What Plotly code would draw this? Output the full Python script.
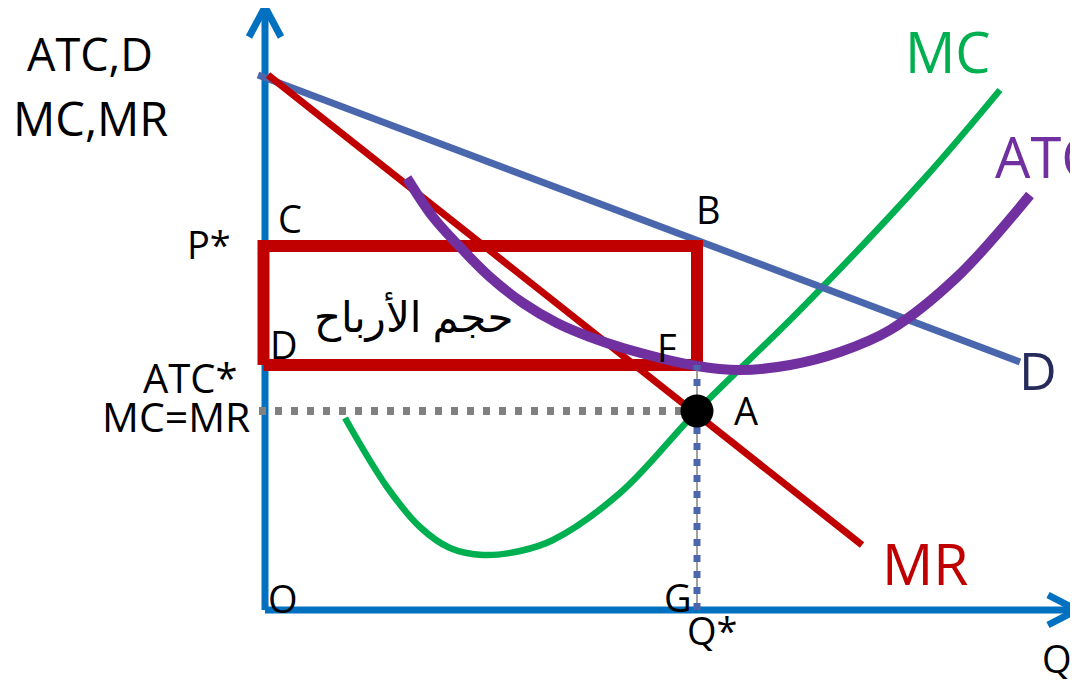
import plotly.graph_objects as go

# curves of the monopoly diagram (Q on x, price/cost on y)
demand_q = [-0.7, 75.5]
demand_p = [53.5, 24.8]

mr_q = [0.3, 59.7]
mr_p = [53.5, 6.5]

mc_q = [8.0, 12.2, 15.5, 18.5, 21.8, 25.5, 28.8, 35.5, 43.2, 53.5, 65.8, 73.5]
mc_p = [19.2, 12.3, 8.3, 6.2, 5.5, 5.9, 7.0, 11.7, 19.9, 30.0, 43.0, 52.0]

atc_q = [14.2, 16.8, 19.5, 22.5, 25.8, 29.2, 32.5, 35.8, 43.2, 47.5, 52.5,
         57.5, 62.5, 69.2, 76.5]
atc_p = [43.2, 39.3, 36.3, 33.3, 30.7, 28.7, 27.3, 26.2, 24.4, 24.0, 24.5,
         25.8, 28.0, 33.3, 41.5]

# equilibrium values
q_star = 43.2
p_star = 36.4
atc_star = 24.5
mc_mr = 19.9

# axes
q_axis_end = 81.2
p_axis_end = 60.3

# point letters: text, q, p
point_labels = [
    ("C", 2.5, 39.2), ("B", 44.3, 40.1), ("D", 1.9, 26.6), ("F", 40.2, 26.3),
    ("A", 48.1, 20.0), ("O", 1.8, 1.2), ("G", 41.3, 1.3), ("Q*", 44.7, -2.0),
    ("Q", 79.2, -4.8), ("P*", -5.6, 36.6),
]

BLUE_AXIS = "#0070C0"
D_BLUE = "#4A66AC"
RED = "#C00000"
GREEN = "#00B050"
PURPLE = "#7030A0"
FONT = "Open Sans, Noto Sans, DejaVu Sans, sans-serif"

fig = go.Figure()

# axes with open arrow heads
fig.add_trace(go.Scatter(x=[0, 0], y=[0, p_axis_end], mode="lines",
                         line=dict(color=BLUE_AXIS, width=7)))
fig.add_trace(go.Scatter(x=[0, q_axis_end], y=[0, 0], mode="lines",
                         line=dict(color=BLUE_AXIS, width=7)))
fig.add_trace(go.Scatter(x=[-1.6, 0, 1.6], y=[p_axis_end - 3, p_axis_end, p_axis_end - 3],
                         mode="lines", line=dict(color=BLUE_AXIS, width=7)))
fig.add_trace(go.Scatter(x=[q_axis_end - 2.9, q_axis_end, q_axis_end - 2.9], y=[1.5, 0, -1.5],
                         mode="lines", line=dict(color=BLUE_AXIS, width=7)))

# MC, D, MR
fig.add_trace(go.Scatter(x=mc_q, y=mc_p, mode="lines", line_shape="spline",
                         line=dict(color=GREEN, width=6.5)))
fig.add_trace(go.Scatter(x=demand_q, y=demand_p, mode="lines",
                         line=dict(color=D_BLUE, width=7)))
fig.add_trace(go.Scatter(x=mr_q, y=mr_p, mode="lines",
                         line=dict(color=RED, width=7)))

# profit rectangle
fig.add_trace(go.Scatter(x=[-0.15, q_star, q_star, -0.15, -0.15],
                         y=[atc_star, atc_star, p_star, p_star, atc_star],
                         mode="lines", line=dict(color=RED, width=12)))

# ATC
fig.add_trace(go.Scatter(x=atc_q, y=atc_p, mode="lines", line_shape="spline",
                         line=dict(color=PURPLE, width=10, smoothing=1.0)))

# guide lines
fig.add_trace(go.Scatter(x=[-0.6, q_star], y=[mc_mr, mc_mr], mode="lines",
                         line=dict(color="#808080", width=8, dash="7px,9px")))
fig.add_trace(go.Scatter(x=[q_star, q_star], y=[0, atc_star], mode="lines",
                         line=dict(color="#808080", width=1.5)))
fig.add_trace(go.Scatter(x=[q_star, q_star], y=[0, atc_star], mode="lines",
                         line=dict(color=D_BLUE, width=7, dash="7px,9px")))

# point A
fig.add_trace(go.Scatter(x=[q_star], y=[mc_mr], mode="markers",
                         marker=dict(color="black", size=33)))

# texts
for txt, q, p in point_labels:
    fig.add_annotation(x=q, y=p, text=txt, showarrow=False,
                       font=dict(family=FONT, size=38, color="black"))

fig.add_annotation(x=-17.5, y=55.7, text="ATC,D", showarrow=False,
                   font=dict(family=FONT, size=45, color="black"))
fig.add_annotation(x=-17.5, y=49.2, text="MC,MR", showarrow=False,
                   font=dict(family=FONT, size=47, color="black"))
fig.add_annotation(x=-2.5, y=23.3, text="ATC*", showarrow=False, xanchor="right",
                   font=dict(family=FONT, size=40, color="black"))
fig.add_annotation(x=-1.3, y=19.4, text="MC=MR", showarrow=False, xanchor="right",
                   font=dict(family=FONT, size=41, color="black"))
fig.add_annotation(x=14.8, y=29.5, text="حجم الأرباح", showarrow=False,
                   font=dict(family=FONT, size=42, color="black"))

fig.add_annotation(x=68.3, y=55.9, text="MC", showarrow=False,
                   font=dict(family=FONT, size=56, color=GREEN))
fig.add_annotation(x=72.8, y=45.4, text="ATC", showarrow=False, xanchor="left",
                   font=dict(family=FONT, size=56, color=PURPLE))
fig.add_annotation(x=77.3, y=24.1, text="D", showarrow=False,
                   font=dict(family=FONT, size=52, color="#262B5C"))
fig.add_annotation(x=66.0, y=4.7, text="MR", showarrow=False,
                   font=dict(family=FONT, size=57, color=RED))

# the page body adds an 8px margin, so the figure covers the rest of the window
fig.update_layout(
    width=1070, height=672,
    margin=dict(l=0, r=0, t=0, b=0),
    paper_bgcolor="white", plot_bgcolor="white",
    showlegend=False,
    xaxis=dict(range=[-25.7, 81.3], visible=False, fixedrange=True),
    yaxis=dict(range=[-7.0, 60.2], visible=False, fixedrange=True),
)

fig.write_html("out.html")
